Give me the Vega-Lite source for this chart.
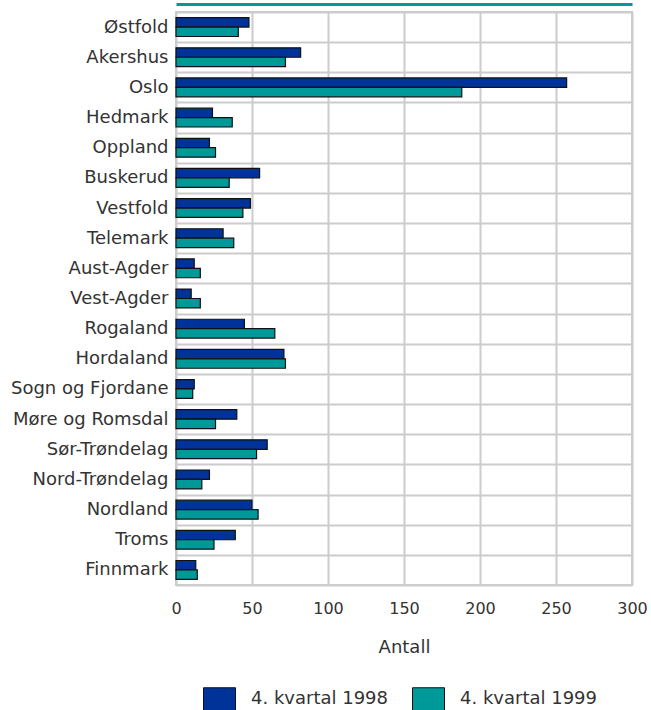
{
  "$schema": "https://vega.github.io/schema/vega-lite/v6.json",
  "width": 456,
  "height": 573,
  "autosize": {"type": "none"},
  "padding": {"left": 176, "top": 12, "right": 19, "bottom": 125},
  "background": "white",
  "config": {
    "font": "DejaVu Sans",
    "view": {"stroke": "#cccccc", "strokeWidth": 2},
    "axis": {"labelFont": "DejaVu Sans", "titleFont": "DejaVu Sans", "labelColor": "#333333", "titleColor": "#333333"},
    "legend": {"labelFont": "DejaVu Sans"}
  },
  "resolve": {"axis": {"x": "independent"}},
  "data": {
    "values": [
      {"fylke": "Østfold", "periode": "4. kvartal 1998", "antall": 48},
      {"fylke": "Østfold", "periode": "4. kvartal 1999", "antall": 41},
      {"fylke": "Akershus", "periode": "4. kvartal 1998", "antall": 82},
      {"fylke": "Akershus", "periode": "4. kvartal 1999", "antall": 72},
      {"fylke": "Oslo", "periode": "4. kvartal 1998", "antall": 257},
      {"fylke": "Oslo", "periode": "4. kvartal 1999", "antall": 188},
      {"fylke": "Hedmark", "periode": "4. kvartal 1998", "antall": 24},
      {"fylke": "Hedmark", "periode": "4. kvartal 1999", "antall": 37},
      {"fylke": "Oppland", "periode": "4. kvartal 1998", "antall": 22},
      {"fylke": "Oppland", "periode": "4. kvartal 1999", "antall": 26},
      {"fylke": "Buskerud", "periode": "4. kvartal 1998", "antall": 55},
      {"fylke": "Buskerud", "periode": "4. kvartal 1999", "antall": 35},
      {"fylke": "Vestfold", "periode": "4. kvartal 1998", "antall": 49},
      {"fylke": "Vestfold", "periode": "4. kvartal 1999", "antall": 44},
      {"fylke": "Telemark", "periode": "4. kvartal 1998", "antall": 31},
      {"fylke": "Telemark", "periode": "4. kvartal 1999", "antall": 38},
      {"fylke": "Aust-Agder", "periode": "4. kvartal 1998", "antall": 12},
      {"fylke": "Aust-Agder", "periode": "4. kvartal 1999", "antall": 16},
      {"fylke": "Vest-Agder", "periode": "4. kvartal 1998", "antall": 10},
      {"fylke": "Vest-Agder", "periode": "4. kvartal 1999", "antall": 16},
      {"fylke": "Rogaland", "periode": "4. kvartal 1998", "antall": 45},
      {"fylke": "Rogaland", "periode": "4. kvartal 1999", "antall": 65},
      {"fylke": "Hordaland", "periode": "4. kvartal 1998", "antall": 71},
      {"fylke": "Hordaland", "periode": "4. kvartal 1999", "antall": 72},
      {"fylke": "Sogn og Fjordane", "periode": "4. kvartal 1998", "antall": 12},
      {"fylke": "Sogn og Fjordane", "periode": "4. kvartal 1999", "antall": 11},
      {"fylke": "Møre og Romsdal", "periode": "4. kvartal 1998", "antall": 40},
      {"fylke": "Møre og Romsdal", "periode": "4. kvartal 1999", "antall": 26},
      {"fylke": "Sør-Trøndelag", "periode": "4. kvartal 1998", "antall": 60},
      {"fylke": "Sør-Trøndelag", "periode": "4. kvartal 1999", "antall": 53},
      {"fylke": "Nord-Trøndelag", "periode": "4. kvartal 1998", "antall": 22},
      {"fylke": "Nord-Trøndelag", "periode": "4. kvartal 1999", "antall": 17},
      {"fylke": "Nordland", "periode": "4. kvartal 1998", "antall": 50},
      {"fylke": "Nordland", "periode": "4. kvartal 1999", "antall": 54},
      {"fylke": "Troms", "periode": "4. kvartal 1998", "antall": 39},
      {"fylke": "Troms", "periode": "4. kvartal 1999", "antall": 25},
      {"fylke": "Finnmark", "periode": "4. kvartal 1998", "antall": 13},
      {"fylke": "Finnmark", "periode": "4. kvartal 1999", "antall": 14}
    ]
  },
  "layer": [
    {
      "mark": {"type": "bar", "stroke": "#111111", "strokeWidth": 1.2},
      "encoding": {
        "y": {
          "field": "fylke",
          "type": "nominal",
          "sort": null,
          "scale": {"paddingInner": 0, "paddingOuter": 0},
          "axis": {
            "title": null,
            "ticks": false,
            "domain": false,
            "tickBand": "extent",
            "grid": true,
            "gridColor": "#cccccc",
            "gridWidth": 2,
            "labelFontSize": 18,
            "labelPadding": 8
          }
        },
        "yOffset": {
          "field": "periode",
          "type": "nominal",
          "scale": {"paddingInner": 0, "paddingOuter": 0.6}
        },
        "x": {
          "field": "antall",
          "type": "quantitative",
          "scale": {"domain": [0, 300], "nice": false},
          "axis": {
            "orient": "bottom",
            "title": "Antall",
            "values": [0, 50, 100, 150, 200, 250, 300],
            "ticks": false,
            "domain": false,
            "grid": true,
            "gridColor": "#cccccc",
            "gridWidth": 2,
            "labelFlush": false,
            "labelFontSize": 16,
            "labelPadding": 15,
            "titleFontSize": 18,
            "titleFontWeight": "normal",
            "titlePadding": 22
          }
        },
        "color": {
          "field": "periode",
          "type": "nominal",
          "scale": {"domain": ["4. kvartal 1998", "4. kvartal 1999"], "range": ["#003399", "#009999"]},
          "legend": {
            "title": null,
            "orient": "none",
            "direction": "horizontal",
            "legendX": 27,
            "legendY": 675,
            "symbolType": "square",
            "symbolSize": 1024,
            "symbolStrokeColor": "#111111",
            "symbolStrokeWidth": 1,
            "labelFontSize": 18,
            "labelColor": "#333333",
            "labelBaseline": "alphabetic",
            "labelOffset": 15,
            "columnPadding": 21
          }
        }
      }
    },
    {
      "mark": {"type": "rule", "opacity": 0},
      "encoding": {
        "x": {
          "field": "antall",
          "type": "quantitative",
          "axis": {
            "orient": "top",
            "title": null,
            "labels": false,
            "ticks": false,
            "grid": false,
            "domain": true,
            "domainColor": "#009999",
            "domainWidth": 3,
            "offset": 8
          }
        }
      }
    }
  ]
}
